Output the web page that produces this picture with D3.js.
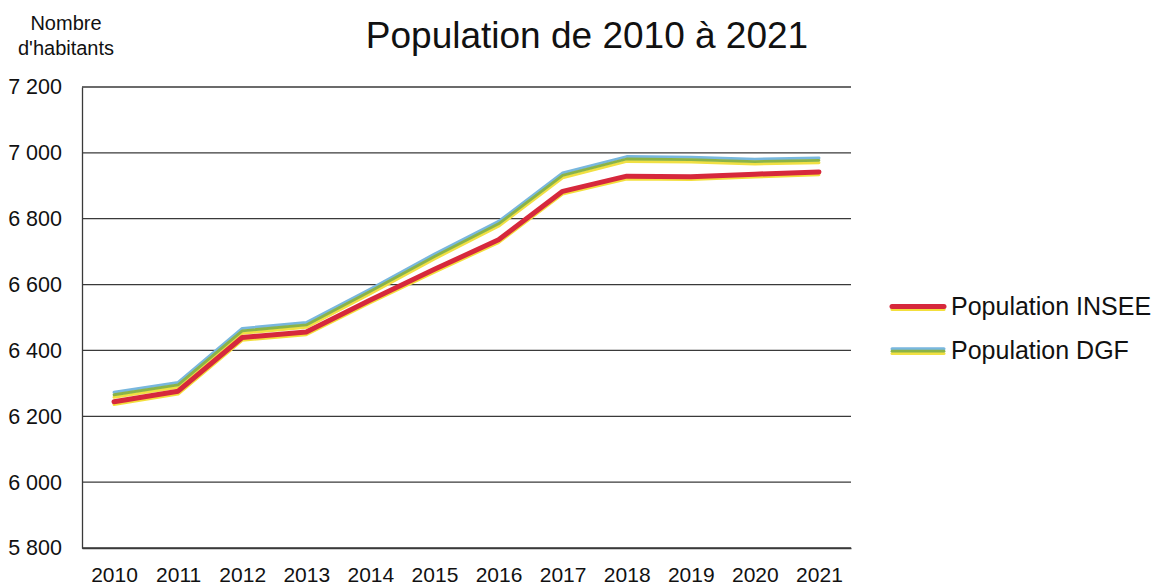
<!DOCTYPE html>
<html>
<head>
<meta charset="utf-8">
<script src="https://cdn.jsdelivr.net/npm/d3@7"></script>
<style>
  body { margin: 0; background: #fff; }
  text { font-family: "Liberation Sans", Arial, sans-serif; fill: #111; }
</style>
</head>
<body>
<div id="visualisationDiv" style="width:1162px;height:586px"></div>
<script>
var years = [2010, 2011, 2012, 2013, 2014, 2015, 2016, 2017, 2018, 2019, 2020, 2021];
var popInsee = [6243, 6275, 6438, 6455, 6552, 6645, 6735, 6882, 6928, 6926, 6934, 6941];
var popDgf = [6266, 6296, 6460, 6478, 6580, 6686, 6785, 6932, 6982, 6980, 6974, 6978];
var yTicks = [5800, 6000, 6200, 6400, 6600, 6800, 7000, 7200];

function makeVisualisation() {
  var width = 1162, height = 586;
  var left = 82, right = 851, top = 87, bottom = 548;

  var svg = d3.select('#visualisationDiv').append('svg')
    .attr('width', width)
    .attr('height', height);

  svg.append('rect').attr('width', width).attr('height', height).attr('fill', 'white');

  var x = d3.scalePoint()
    .domain(years)
    .range([left, right])
    .padding(0.5);

  var y = d3.scaleLinear()
    .domain([5800, 7200])
    .range([bottom, top]);

  var fmt = function(d) { return d3.format(',')(d).replace(',', ' '); };

  // gridlines
  svg.append('g')
    .selectAll('line')
    .data(yTicks)
    .enter()
    .append('line')
      .attr('x1', left).attr('x2', right)
      .attr('y1', function(d) { return y(d); })
      .attr('y2', function(d) { return y(d); })
      .attr('stroke', '#3a3a3a')
      .attr('stroke-width', 1.3);

  // y axis
  var yAxis = svg.append('g')
    .attr('transform', 'translate(' + left + ',0)')
    .call(d3.axisLeft(y).tickValues(yTicks).tickSize(0).tickPadding(20).tickFormat(fmt));
  yAxis.select('.domain').attr('stroke', '#3a3a3a').attr('stroke-width', 1.3);
  yAxis.selectAll('text').attr('font-size', 21.5).attr('fill', '#111')
    .attr('font-family', '"Liberation Sans", Arial, sans-serif');

  // x axis
  var xAxis = svg.append('g')
    .attr('transform', 'translate(0,' + bottom + ')')
    .call(d3.axisBottom(x).tickSize(0).tickPadding(19).tickFormat(function(d) { return d; }));
  xAxis.select('.domain').attr('stroke', '#3a3a3a').attr('stroke-width', 1.3);
  xAxis.selectAll('text').attr('font-size', 21).attr('fill', '#111')
    .attr('font-family', '"Liberation Sans", Arial, sans-serif');

  var line = d3.line()
    .x(function(d, i) { return x(years[i]); })
    .y(function(d) { return y(d); });

  // stacked strokes to mimic the printed bands
  var bands = {
    insee: [
      { color: '#f3df3c', w: 3, dy: 2.4 },
      { color: '#d6283c', w: 5, dy: -0.4 }
    ],
    dgf: [
      { color: '#f1e043', w: 3, dy: 2.6 },
      { color: '#78b7de', w: 3, dy: -2.2 },
      { color: '#8bb347', w: 2.8, dy: 0.2 }
    ]
  };

  function drawSeries(values, layers) {
    layers.forEach(function(l) {
      svg.append('path')
        .datum(values)
        .attr('d', line)
        .attr('transform', 'translate(0,' + l.dy + ')')
        .attr('fill', 'none')
        .attr('stroke', l.color)
        .attr('stroke-width', l.w)
        .attr('stroke-linejoin', 'round')
        .attr('stroke-linecap', 'round');
    });
  }
  drawSeries(popDgf, bands.dgf);
  drawSeries(popInsee, bands.insee);

  // legend
  var legend = [
    { name: 'Population INSEE', layers: bands.insee, y: 307 },
    { name: 'Population DGF', layers: bands.dgf, y: 351 }
  ];
  legend.forEach(function(item) {
    item.layers.forEach(function(l) {
      svg.append('line')
        .attr('x1', 892).attr('x2', 944)
        .attr('y1', item.y + l.dy).attr('y2', item.y + l.dy)
        .attr('stroke', l.color)
        .attr('stroke-width', l.w)
        .attr('stroke-linecap', 'round');
    });
    svg.append('text')
      .attr('x', 951).attr('y', item.y + 8)
      .attr('font-size', 25)
      .text(item.name);
  });

  // title
  svg.append('text')
    .attr('x', 587).attr('y', 48)
    .attr('text-anchor', 'middle')
    .attr('font-size', 37)
    .text('Population de 2010 à 2021');

  // y label
  svg.append('text')
    .attr('x', 66).attr('y', 30)
    .attr('text-anchor', 'middle')
    .attr('font-size', 20)
    .text('Nombre');
  svg.append('text')
    .attr('x', 66).attr('y', 55)
    .attr('text-anchor', 'middle')
    .attr('font-size', 20)
    .text("d'habitants");
}

makeVisualisation();
</script>
</body>
</html>
